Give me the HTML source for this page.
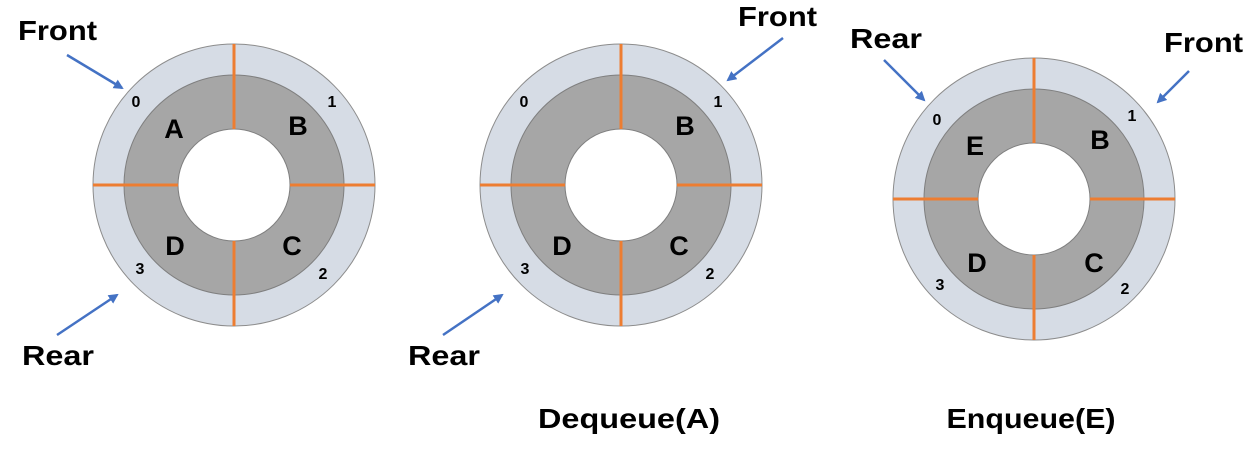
<!DOCTYPE html>
<html><head><meta charset="utf-8">
<style>
html,body{margin:0;padding:0;background:#fff;}
svg{display:block;font-family:"Liberation Sans",sans-serif;font-weight:bold;}
</style></head>
<body>
<svg id="s" width="1255" height="454" viewBox="0 0 1255 454">
<defs><marker id="ah" markerWidth="10" markerHeight="10" refX="8" refY="5" orient="auto" markerUnits="userSpaceOnUse"><path d="M0,0 L10,5 L0,10 Z" fill="#4472c4"/></marker></defs>
</svg>
<script>
const NS="http://www.w3.org/2000/svg";
const svg=document.getElementById('s');
const centersX=[234,621,1034];
const centersY=[185,185,199];
const slotLetters=[["A","B","C","D"],["","B","C","D"],["E","B","C","D"]];
const letterPos=[[[174,128],[298,125],[292,245],[175,245]],[[0,0],[685,125],[679,245],[562,245]],[[975,145],[1100,139],[1094,262],[977,262]]];
const idxPos=[[[136,101],[332,101],[323,273],[140,268]],[[524,101],[718,101],[710,273],[525,268]],[[937,119],[1132,115],[1125,288],[940,284]]];
const pointers=[["Front",18,30,67,55,122,88,79],["Rear",22,355,57,335,117,295,72],["Front",738,16,783,38,728,80,79],["Rear",408,355,443,335,502,295,72],["Rear",850,38,884,60,924,100,72],["Front",1164,42,1189,71,1158,102,79]];
const captions=[["",0,0,0],["Dequeue(A)",629,418,182],["Enqueue(E)",1031,418,169]];
function mk(t,a,p){const e=document.createElementNS(NS,t);for(const k in a)e.setAttribute(k,a[k]);(p||svg).appendChild(e);return e;}
centersX.forEach((cx,i)=>{
  const cy=centersY[i];
  const g=mk('g',{});
  
  
  mk('circle',{cx,cy,r:141,fill:'#d6dce5',stroke:'#8c8c8c','stroke-width':1},g);
  mk('circle',{cx,cy,r:110,fill:'#a6a6a6',stroke:'#7f7f7f','stroke-width':1},g);
  mk('circle',{cx,cy,r:56,fill:'#fff',stroke:'#7f7f7f','stroke-width':1},g);
  [[0,-1],[1,0],[0,1],[-1,0]].forEach(d=>{
    const l=mk('line',{x1:cx+d[0]*56,y1:cy+d[1]*56,x2:cx+d[0]*141,y2:cy+d[1]*141,stroke:'#ed7d31','stroke-width':3},g);
    
    
  });
  slotLetters[i].forEach((s,j)=>{
    if(s){const t=mk('text',{x:letterPos[i][j][0],y:letterPos[i][j][1]+10,'font-size':27,'text-anchor':'middle'},g);t.textContent=s;
    
    }
    const n=mk('text',{x:idxPos[i][j][0],y:idxPos[i][j][1]+6,'font-size':16,'text-anchor':'middle'},g);n.textContent=j;
    
    
  });
});
pointers.forEach(p=>{
  const t=mk('text',{x:p[1],y:p[2]+10,'font-size':28,textLength:p[7],lengthAdjust:'spacingAndGlyphs'});t.textContent=p[0];
  
  
  const a=mk('line',{x1:p[3],y1:p[4],x2:p[5],y2:p[6],stroke:'#4472c4','stroke-width':2.5,'marker-end':'url(#ah)'});
  
  
});
captions.forEach(c=>{
  if(!c[0])return;
  const t=mk('text',{x:c[1]-c[3]/2,y:c[2]+10,'font-size':28,textLength:c[3],lengthAdjust:'spacingAndGlyphs'});t.textContent=c[0];
  
  
});
</script>
</body></html>
